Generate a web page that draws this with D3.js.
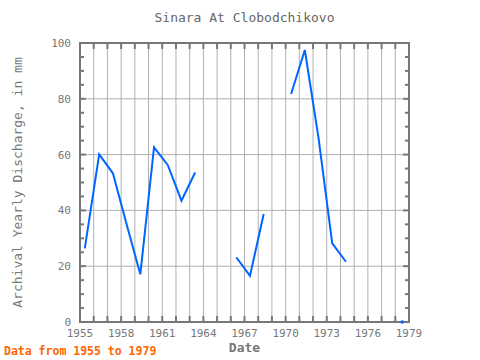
<!DOCTYPE html>
<html>
<head>
<meta charset="utf-8">
<script src="https://cdn.jsdelivr.net/npm/d3@7"></script>
<style>
  body { margin: 0; background: #fff; }
  svg text { font-family: "DejaVu Sans Mono", monospace; }
</style>
</head>
<body>
<div id="chart"></div>
<script>
// decimal year of each record, null value = no record
var dates = [1955.35, 1956.4, 1957.4, 1958.4, 1959.4, 1960.4, 1961.4, 1962.4, 1963.4,
             1964.4, 1965.4, 1966.4, 1967.4, 1968.4, 1969.4, 1970.4, 1971.4, 1972.4,
             1973.4, 1974.4, 1975.4, 1976.4, 1977.4, 1978.5];
var values = [26.4, 60.1, 53.3, 35, 17.1, 62.6, 56.3, 43.5, 53.6,
              null, null, 23.2, 16.5, 38.7, null, 81.7, 97.5, 66,
              28.2, 21.6, null, null, null, 0];
var xTickLabels = [1955, 1958, 1961, 1964, 1967, 1970, 1973, 1976, 1979];
var yTickLabels = [0, 20, 40, 60, 80, 100];

var w = 480, h = 360;
var margin = {top: 43, right: 71, bottom: 38, left: 80},
    width = w - margin.left - margin.right,
    height = h - margin.top - margin.bottom;

var svgRoot = d3.select("#chart").append("svg")
    .attr("width", w)
    .attr("height", h);

var svg = svgRoot.append("g")
    .attr("transform", "translate(" + margin.left + "," + margin.top + ")");

var x = d3.scaleLinear().domain([1955, 1979]).range([0, width]);
var y = d3.scaleLinear().domain([0, 100]).range([height, 0]);

var frameColor = "#777", gridColor = "#b0b0b0", textColor = "#777";

// grid: every year vertically, every 20 horizontally
svg.selectAll("line.vgrid")
    .data(d3.range(1956, 1979))
    .enter().append("line")
    .attr("class", "vgrid")
    .attr("x1", function (d) { return x(d); })
    .attr("x2", function (d) { return x(d); })
    .attr("y1", 0).attr("y2", height)
    .attr("stroke", gridColor).attr("stroke-width", 1);

svg.selectAll("line.hgrid")
    .data(d3.range(20, 100, 20))
    .enter().append("line")
    .attr("class", "hgrid")
    .attr("x1", 0).attr("x2", width)
    .attr("y1", function (d) { return y(d); })
    .attr("y2", function (d) { return y(d); })
    .attr("stroke", gridColor).attr("stroke-width", 1);

// inward ticks on all four sides
var yearTicks = d3.range(1956, 1979);
var valTicks = d3.range(5, 100, 5);
function tick(x1, y1, x2, y2) {
    svg.append("line")
        .attr("x1", x1).attr("y1", y1).attr("x2", x2).attr("y2", y2)
        .attr("stroke", frameColor).attr("stroke-width", 2);
}
yearTicks.forEach(function (d) {
    tick(x(d), 0, x(d), 6);
    tick(x(d), height, x(d), height - 6);
});
valTicks.forEach(function (d) {
    var len = d % 20 == 0 ? 6 : 4;
    tick(0, y(d), len, y(d));
    tick(width, y(d), width - len, y(d));
});

// frame
svg.append("rect")
    .attr("x", 0).attr("y", 0)
    .attr("width", width).attr("height", height)
    .attr("fill", "none")
    .attr("stroke", frameColor).attr("stroke-width", 2);

// tick labels
svg.selectAll("text.xlab")
    .data(xTickLabels)
    .enter().append("text")
    .attr("class", "xlab")
    .attr("x", function (d) { return x(d); })
    .attr("y", height + 15)
    .attr("text-anchor", "middle")
    .attr("font-size", "11px")
    .attr("fill", textColor)
    .text(function (d) { return d; });

svg.selectAll("text.ylab")
    .data(yTickLabels)
    .enter().append("text")
    .attr("class", "ylab")
    .attr("x", -9)
    .attr("y", function (d) { return y(d) + 4; })
    .attr("text-anchor", "end")
    .attr("font-size", "11px")
    .attr("fill", textColor)
    .text(function (d) { return d; });

// series
var points = dates.map(function (d, i) { return {date: d, value: values[i]}; });

var line = d3.line()
    .defined(function (d) { return d.value != null; })
    .x(function (d) { return x(d.date); })
    .y(function (d) { return y(d.value); });

svg.append("path")
    .datum(points)
    .attr("d", line)
    .attr("fill", "none")
    .attr("stroke", "#0066ff")
    .attr("stroke-width", 2);

// isolated points (no neighbour to draw a segment to)
var isolated = points.filter(function (d, i) {
    var prev = points[i - 1], next = points[i + 1];
    return d.value != null && (!prev || prev.value == null) && (!next || next.value == null);
});
svg.selectAll("circle.single")
    .data(isolated)
    .enter().append("circle")
    .attr("class", "single")
    .attr("cx", function (d) { return x(d.date); })
    .attr("cy", function (d) { return y(d.value); })
    .attr("r", 1.8)
    .attr("fill", "#0066ff");

// titles
svgRoot.append("text")
    .attr("x", margin.left + width / 2)
    .attr("y", 22)
    .attr("text-anchor", "middle")
    .attr("font-size", "13px")
    .attr("fill", "#666")
    .text("Sinara At Clobodchikovo");

svgRoot.append("text")
    .attr("x", margin.left + width / 2)
    .attr("y", 352)
    .attr("text-anchor", "middle")
    .attr("font-size", "13px")
    .attr("font-weight", "bold")
    .attr("fill", "#777")
    .text("Date");

svgRoot.append("text")
    .attr("transform", "translate(22," + (margin.top + height / 2) + ") rotate(-90)")
    .attr("text-anchor", "middle")
    .attr("font-size", "13px")
    .attr("fill", "#777")
    .text("Archival Yearly Discharge, in mm");

svgRoot.append("text")
    .attr("x", 4)
    .attr("y", 355)
    .attr("font-size", "11.5px")
    .attr("font-weight", "bold")
    .attr("fill", "#ff6600")
    .text("Data from 1955 to 1979");
</script>
</body>
</html>
